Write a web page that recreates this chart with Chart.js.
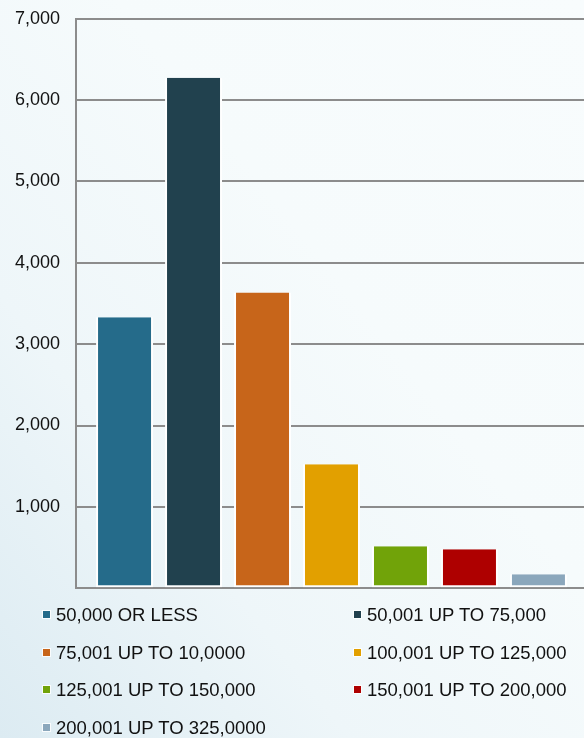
<!DOCTYPE html>
<html>
<head>
<meta charset="utf-8">
<script src="https://cdn.jsdelivr.net/npm/chart.js@4/dist/chart.umd.min.js"></script>
<style>
  html, body { margin: 0; padding: 0; }
  body {
    width: 584px; height: 738px; overflow: hidden; position: relative;
    background: linear-gradient(to top right, #dcebf2 0%, #eef6f9 30%, #f6fbfc 60%, #f8fcfd 100%);
    font-family: "Liberation Sans", Arial, sans-serif;
  }
  #wrap { position: absolute; left: 0; top: -8px; width: 590px; height: 623px; }
  #legend { position: absolute; left: 0; top: 0; width: 584px; height: 738px; pointer-events: none; }
  .item { position: absolute; font-size: 18.5px; color: #111; line-height: 20px; white-space: nowrap; }
  .item i { position: absolute; left: -13px; top: 6px; width: 7px; height: 7px; box-shadow: 0 0 0 1px rgba(255,255,255,0.8); }
</style>
</head>
<body>
<div id="wrap"><canvas id="chart"></canvas></div>
<div id="legend"></div>
<script>
// Salary bands and the number of people in each
const bands = [
  '50,000 OR LESS',
  '50,001 UP TO 75,000',
  '75,001 UP TO 10,0000',
  '100,001 UP TO 125,000',
  '125,001 UP TO 150,000',
  '150,001 UP TO 200,000',
  '200,001 UP TO 325,0000'
];
const counts = [3330, 6275, 3635, 1525, 515, 480, 170];
const bandColors = ['#256b8a', '#21414e', '#c7651a', '#e2a000', '#71a309', '#ae0000', '#8ba7bc'];
const yTicks = [0, 1000, 2000, 3000, 4000, 5000, 6000, 7000];

const datasets = bands.map((name, i) => ({
  label: name,
  data: [counts[i]],
  backgroundColor: bandColors[i],
  borderColor: '#ffffff',
  borderWidth: { top: 0, left: 2, right: 2, bottom: 2 },
  borderSkipped: false,
  barPercentage: 0.826,
  categoryPercentage: 0.945
}));

new Chart(document.getElementById('chart'), {
  type: 'bar',
  data: { labels: [''], datasets },
  options: {
    responsive: true,
    maintainAspectRatio: false,
    animation: false,
    layout: { padding: { top: 9, bottom: 0, right: 3, left: 0 } },
    plugins: { legend: { display: false }, tooltip: { enabled: false } },
    scales: {
      x: { display: false },
      y: {
        min: 0, max: 7000,
        afterBuildTicks: s => { s.ticks = yTicks.map(v => ({ value: v })); },
        afterFit: s => { s.width = 76; },
        grid: { color: '#8c8c8c', lineWidth: 2, drawTicks: false },
        border: { display: true, color: '#8c8c8c', width: 2 },
        ticks: {
          padding: 16,
          color: '#111111',
          font: { family: '"Liberation Sans", Arial, sans-serif', size: 18 },
          callback: v => v === 0 ? '' : v.toLocaleString('en-US')
        }
      }
    }
  }
});

// Two-column legend built from the bands
const legend = document.getElementById('legend');
const colX = [56, 367];
const rowY = [605, 643, 680, 718];
bands.forEach((name, i) => {
  const d = document.createElement('div');
  d.className = 'item';
  d.style.left = colX[i % 2] + 'px';
  d.style.top = rowY[Math.floor(i / 2)] + 'px';
  const m = document.createElement('i');
  m.style.background = bandColors[i];
  d.appendChild(m);
  d.appendChild(document.createTextNode(name));
  legend.appendChild(d);
});
</script>
</body>
</html>
